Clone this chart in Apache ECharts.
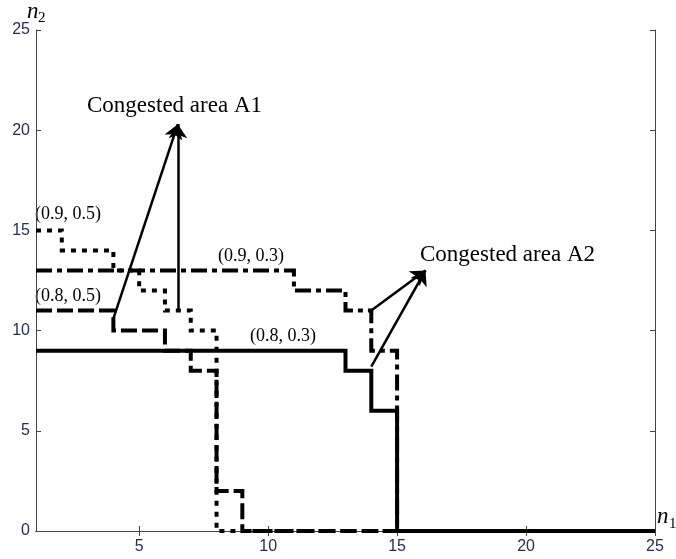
<!DOCTYPE html>
<html>
<head>
<meta charset="utf-8">
<script src="https://cdn.jsdelivr.net/npm/echarts@6/dist/echarts.min.js"></script>
<style>
  html, body { margin: 0; padding: 0; background: #fff; }
  #chart { width: 676px; height: 559px; }
</style>
</head>
<body>
<div id="chart"></div>
<script>
// Step boundaries: each curve is given by the n1 values where it steps and the n2 level it takes from there.
const n1Ticks = [5, 10, 15, 20, 25];
const n2Ticks = [0, 5, 10, 15, 20, 25];

const curve08_03_n1 = [1, 13, 14, 15, 25];
const curve08_03_n2 = [9, 8, 6, 0, 0];

const curve08_05_n1 = [1, 4, 6, 7, 8, 9, 25];
const curve08_05_n2 = [11, 10, 9, 8, 2, 0, 0];

const curve09_03_n1 = [1, 11, 13, 14, 15, 25];
const curve09_03_n2 = [13, 12, 11, 9, 0, 0];

const curve09_05_n1 = [1, 2, 4, 5, 6, 7, 8, 25];
const curve09_05_n2 = [15, 14, 13, 12, 11, 10, 0, 0];

const curveNames = ['(0.8, 0.3)', '(0.8, 0.5)', '(0.9, 0.3)', '(0.9, 0.5)'];
const areaNames = ['Congested area A1', 'Congested area A2'];

// Arrow end points in (n1, n2): [tail, head]
const arrowA1 = [[[4, 10.6], [6.5, 20.3]], [[6.5, 11], [6.5, 20.3]]];
const arrowA2 = [[[14, 11], [16.1, 13]], [[14, 8.2], [16.1, 13]]];

const zip = (xs, ys) => xs.map((x, i) => [x, ys[i]]);

const serif = '"Liberation Serif", "Times New Roman", serif';
const sans = '"Liberation Sans", Arial, sans-serif';
const tickColor = '#2a2a5c';
const boxColor = '#444';

function stepSeries(name, data, dash, z) {
  return {
    name: name,
    type: 'line',
    step: 'end',
    data: data,
    symbol: 'none',
    clip: false,
    z: z,
    silent: true,
    lineStyle: { color: '#000', width: 4, type: dash, cap: 'butt', join: 'miter' }
  };
}

const arrowLines = arrowA1.concat(arrowA2).map(a => [
  { coord: a[0] }, { coord: a[1] }
]);

const valueAxisCommon = {
  type: 'value',
  axisLine: { show: true, lineStyle: { color: boxColor, width: 1 } },
  axisTick: { show: true, inside: true, length: 5, lineStyle: { color: boxColor } },
  splitLine: { show: false }
};

const option = {
  animation: false,
  backgroundColor: '#fff',
  grid: { left: 36, right: 21, top: 30, bottom: 28, containLabel: false },
  xAxis: [
    Object.assign({}, valueAxisCommon, {
      position: 'bottom', min: 1, max: 25,
      axisTick: Object.assign({}, valueAxisCommon.axisTick, { customValues: n1Ticks }),
      axisLabel: { customValues: n1Ticks, color: tickColor, fontSize: 16, margin: 8, fontFamily: sans }
    }),
    Object.assign({}, valueAxisCommon, {
      position: 'top', min: 1, max: 25,
      axisTick: Object.assign({}, valueAxisCommon.axisTick, { customValues: n1Ticks }),
      axisLabel: { show: false }
    })
  ],
  yAxis: [
    Object.assign({}, valueAxisCommon, {
      position: 'left', min: 0, max: 25, interval: 5,
      axisTick: Object.assign({}, valueAxisCommon.axisTick, { customValues: n2Ticks }),
      axisLabel: { customValues: n2Ticks, color: tickColor, fontSize: 16, margin: 6, fontFamily: sans }
    }),
    Object.assign({}, valueAxisCommon, {
      position: 'right', min: 0, max: 25, interval: 5,
      axisLabel: { show: false }
    })
  ],
  series: [
    stepSeries(curveNames[3], zip(curve09_05_n1, curve09_05_n2), [5, 6], 2),
    stepSeries(curveNames[1], zip(curve08_05_n1, curve08_05_n2), [16, 5], 3),
    stepSeries(curveNames[2], zip(curve09_03_n1, curve09_03_n2), [16, 5, 5, 5], 4),
    Object.assign(stepSeries(curveNames[0], zip(curve08_03_n1, curve08_03_n2), 'solid', 5), {
      markLine: {
        silent: true,
        symbol: ['none', 'arrow'],
        symbolSize: 14,
        label: { show: false },
        lineStyle: { color: '#000', width: 2.5, type: 'solid' },
        itemStyle: { color: '#000' },
        emphasis: { disabled: true },
        data: arrowLines
      }
    })
  ],
  graphic: [
    { type: 'text', x: 27, y: 12, style: { text: 'n', font: 'italic 23px ' + serif, fill: '#000', align: 'left', verticalAlign: 'middle' } },
    { type: 'text', x: 38, y: 18, style: { text: '2', font: '15px ' + serif, fill: '#000', align: 'left', verticalAlign: 'middle' } },
    { type: 'text', x: 657, y: 517, style: { text: 'n', font: 'italic 23px ' + serif, fill: '#000', align: 'left', verticalAlign: 'middle' } },
    { type: 'text', x: 669, y: 524, style: { text: '1', font: '15px ' + serif, fill: '#000', align: 'left', verticalAlign: 'middle' } },
    { type: 'text', x: 87, y: 106, style: { text: areaNames[0], font: '23px ' + serif, fill: '#000', align: 'left', verticalAlign: 'middle' } },
    { type: 'text', x: 420, y: 255, style: { text: areaNames[1], font: '23px ' + serif, fill: '#000', align: 'left', verticalAlign: 'middle' } },
    { type: 'text', x: 35, y: 214, style: { text: curveNames[3], font: '18px ' + serif, fill: '#000', align: 'left', verticalAlign: 'middle' } },
    { type: 'text', x: 35, y: 296, style: { text: curveNames[1], font: '18px ' + serif, fill: '#000', align: 'left', verticalAlign: 'middle' } },
    { type: 'text', x: 218, y: 256, style: { text: curveNames[2], font: '18px ' + serif, fill: '#000', align: 'left', verticalAlign: 'middle' } },
    { type: 'text', x: 250, y: 336, style: { text: curveNames[0], font: '18px ' + serif, fill: '#000', align: 'left', verticalAlign: 'middle' } }
  ]
};

const chart = echarts.init(document.getElementById('chart'), null, { renderer: 'canvas' });
chart.setOption(option);
</script>
</body>
</html>
